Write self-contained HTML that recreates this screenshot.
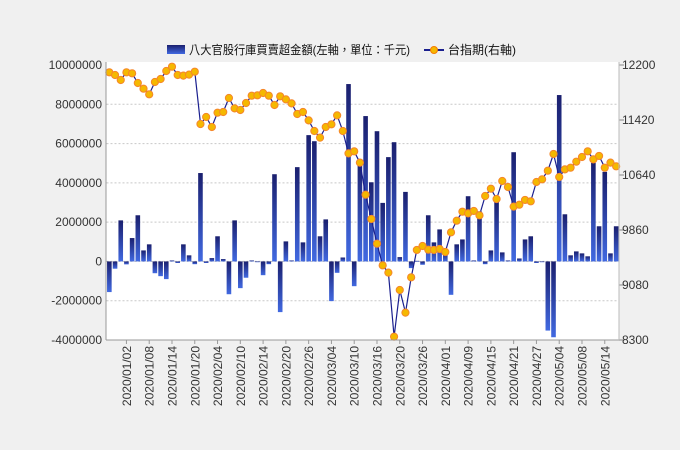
<!DOCTYPE html>
<html><head><meta charset="utf-8"><style>
html,body{margin:0;padding:0;background:#f0f0f0;}
svg{display:block;font-family:"Liberation Sans","Noto Sans CJK TC",sans-serif;}
</style></head><body>
<svg id="chart" width="680" height="450">
<defs>
<linearGradient id="barGrad" x1="0" y1="0" x2="0" y2="1">
<stop offset="0" stop-color="#1a1f6e"/><stop offset="1" stop-color="#4169e1"/>
</linearGradient>
</defs>
<rect x="106" y="62" width="513" height="278" fill="#ffffff"/>
<g id="grid"></g>
<g id="bars"></g>
<g id="line"></g>
<g id="axes"></g>
<g>
<rect x="167" y="45" width="18" height="9" fill="url(#barGrad)"/>
<text x="189" y="54" font-size="12" fill="#111" textLength="221" lengthAdjust="spacingAndGlyphs">八大官股行庫買賣超金額(左軸，單位：千元)</text>
<line x1="424" y1="50" x2="444" y2="50" stroke="#1a1f8e" stroke-width="2"/>
<circle cx="434" cy="50" r="3.5" fill="#f5b800" stroke="#f57c00"/>
<text x="448" y="54" font-size="12" fill="#111">台指期(右軸)</text>
</g>
</svg>
<script>
const dates = ["2019/12/27","2019/12/30","2019/12/31","2020/01/02","2020/01/03","2020/01/06","2020/01/07","2020/01/08","2020/01/09","2020/01/10","2020/01/13","2020/01/14","2020/01/15","2020/01/16","2020/01/17","2020/01/20","2020/01/30","2020/01/31","2020/02/03","2020/02/04","2020/02/05","2020/02/06","2020/02/07","2020/02/10","2020/02/11","2020/02/12","2020/02/13","2020/02/14","2020/02/17","2020/02/18","2020/02/19","2020/02/20","2020/02/21","2020/02/24","2020/02/25","2020/02/26","2020/02/27","2020/03/02","2020/03/03","2020/03/04","2020/03/05","2020/03/06","2020/03/09","2020/03/10","2020/03/11","2020/03/12","2020/03/13","2020/03/16","2020/03/17","2020/03/18","2020/03/19","2020/03/20","2020/03/23","2020/03/24","2020/03/25","2020/03/26","2020/03/27","2020/03/30","2020/03/31","2020/04/01","2020/04/06","2020/04/07","2020/04/08","2020/04/09","2020/04/10","2020/04/13","2020/04/14","2020/04/15","2020/04/16","2020/04/17","2020/04/20","2020/04/21","2020/04/22","2020/04/23","2020/04/24","2020/04/27","2020/04/28","2020/04/29","2020/04/30","2020/05/04","2020/05/05","2020/05/06","2020/05/07","2020/05/08","2020/05/11","2020/05/12","2020/05/13","2020/05/14","2020/05/15","2020/05/18"];
const netBuy = [-1560000,-370000,2090000,-150000,1190000,2350000,560000,870000,-600000,-750000,-900000,50000,-80000,870000,310000,-140000,4500000,-80000,170000,1280000,120000,-1670000,2090000,-1360000,-830000,50000,-30000,-700000,-140000,4440000,-2580000,1020000,50000,4800000,970000,6430000,6120000,1280000,2140000,-2020000,-580000,200000,9030000,-1260000,5200000,7400000,4030000,6630000,2980000,5310000,6070000,220000,3540000,-340000,30000,-170000,2350000,970000,1630000,480000,-1700000,870000,1120000,3320000,50000,2550000,-140000,560000,3030000,460000,50000,5560000,150000,1120000,1280000,-80000,-30000,-3520000,-3860000,8470000,2400000,310000,510000,410000,260000,5020000,1790000,4560000,410000,1790000];
const futures = [12096,12058,11987,12096,12082,11945,11864,11784,11959,12001,12115,12176,12058,12049,12063,12105,11363,11463,11321,11524,11533,11732,11585,11562,11661,11765,11770,11803,11765,11633,11756,11713,11656,11505,11533,11415,11264,11170,11321,11359,11486,11264,10947,10976,10815,10361,10016,9666,9359,9255,8347,9009,8688,9189,9577,9633,9581,9577,9591,9548,9827,9992,10120,10096,10130,10068,10342,10446,10300,10555,10470,10191,10219,10286,10267,10541,10579,10701,10938,10612,10720,10744,10829,10895,10976,10862,10910,10744,10815,10763];
const leftTicks = [10000000,8000000,6000000,4000000,2000000,0,-2000000,-4000000];
const rightTicks = [12200,11420,10640,9860,9080,8300];

const NS="http://www.w3.org/2000/svg";
const L=106.5, R=619, T=65, B=340;
const band=(R-L)/dates.length;
const xC=i=>L+band*(i+0.5);
const yL=v=>T+(10000000-v)/14000000*(B-T);
const yR=v=>T+(12200-v)/3900*(B-T);
function mk(tag,attrs,parent){const e=document.createElementNS(NS,tag);for(const k in attrs)e.setAttribute(k,attrs[k]);parent.appendChild(e);return e;}
const grid=document.getElementById('grid'),bars=document.getElementById('bars'),line=document.getElementById('line'),axes=document.getElementById('axes');
leftTicks.forEach(t=>{
  const y=yL(t);
  if(t!==0&&t!==-4000000&&t!==10000000){const g=mk('line',{x1:L,x2:R,y1:y,y2:y,stroke:'#c8c8c8','stroke-dasharray':'2,2'},grid);
  
  }
  const tx=mk('text',{x:102,y:y+4,'text-anchor':'end','font-size':'12',fill:'#333'},axes);
  tx.textContent=t;
  
  
});
const zl=mk('line',{x1:L,x2:R,y1:yL(0),y2:yL(0),stroke:'#bbb','stroke-dasharray':'2,2'},grid);


rightTicks.forEach(t=>{
  const y=yR(t);
  const tk=mk('line',{x1:R,x2:R+5,y1:y,y2:y,stroke:'#888'},axes);
  
  
  const tx=mk('text',{x:R+3,y:y+4,'font-size':'12',fill:'#333'},axes);
  tx.textContent=t;
  
  
});
netBuy.forEach((v,i)=>{
  const y0=yL(0),y1=yL(v);
  const r=mk('rect',{x:xC(i)-2.3,width:4.6,y:Math.min(y0,y1),height:Math.max(0.8,Math.abs(y1-y0)),fill:'url(#barGrad)'},bars);
  
  
});
const pts=futures.map((v,i)=>xC(i).toFixed(1)+','+yR(v).toFixed(1)).join(' ');
const pl=mk('polyline',{points:pts,fill:'none',stroke:'#1a1f8e','stroke-width':'1.2'},line);


futures.forEach((v,i)=>{
  const c=mk('circle',{cx:xC(i),cy:yR(v),r:3.6,fill:'#f5b800',stroke:'#f5862a','stroke-width':'1'},line);
  
  
});
const ax1=mk('line',{x1:L-0.5,x2:L-0.5,y1:T-3,y2:B,stroke:'#999'},axes);


const ax2=mk('line',{x1:L-0.5,x2:R,y1:B,y2:B,stroke:'#999'},axes);


const ax3=mk('line',{x1:R,x2:R,y1:T-3,y2:B,stroke:'#bbb'},axes);


dates.forEach((d,i)=>{
  if(i<3||(i-3)%4!==0)return;
  const x=xC(i);
  const tk=mk('line',{x1:x,x2:x,y1:B,y2:B+4,stroke:'#999'},axes);
  
  
  const tx=mk('text',{x:0,y:0,'text-anchor':'end','font-size':'12',fill:'#333',transform:'translate('+(x+4.5)+','+(B+6)+') rotate(-90)'},axes);
  tx.textContent=d;
  
  
});
</script>
</body></html>
